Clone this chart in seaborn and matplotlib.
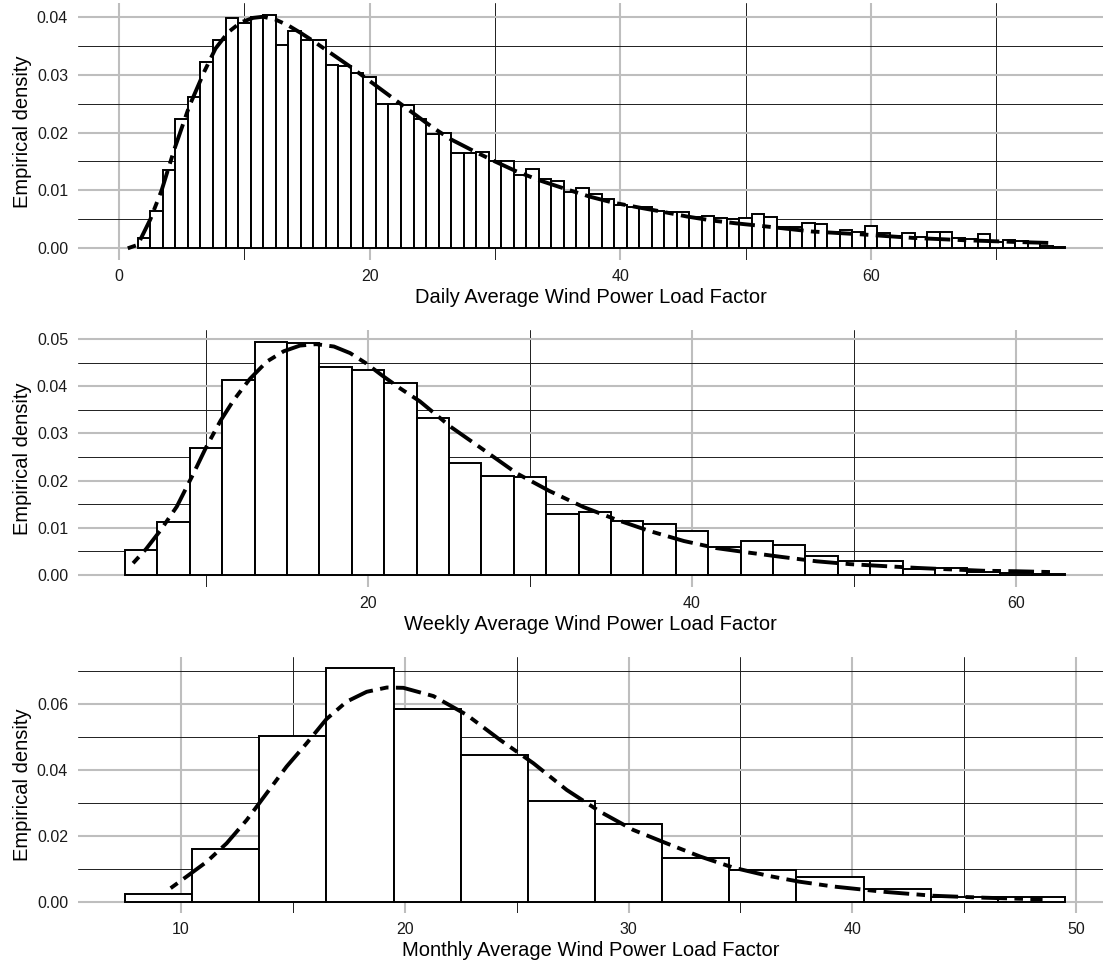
import numpy as np
import pandas as pd
import matplotlib
matplotlib.use("Agg")
import matplotlib.pyplot as plt
import seaborn as sns
from matplotlib.ticker import MultipleLocator

# ---------------- data ----------------
daily_bin_start = 1.5
daily_bin_width = 1.0
daily_heights = [
    0.0017, 0.0065, 0.0136, 0.0223, 0.0262, 0.0321, 0.0360, 0.0397, 0.0389, 0.0400,
    0.0403, 0.0351, 0.0375, 0.0360, 0.0359, 0.0317, 0.0315, 0.0303, 0.0296, 0.0250,
    0.0249, 0.0248, 0.0223, 0.0198, 0.0200, 0.0165, 0.0165, 0.0166, 0.0151, 0.0150,
    0.0127, 0.0137, 0.0120, 0.0117, 0.0098, 0.0105, 0.0094, 0.0085, 0.0075, 0.0072,
    0.0071, 0.0065, 0.0062, 0.0062, 0.0054, 0.0056, 0.0053, 0.0050, 0.0052, 0.0059,
    0.0054, 0.0036, 0.0036, 0.0043, 0.0042, 0.0029, 0.0031, 0.0028, 0.0038, 0.0027,
    0.0021, 0.0026, 0.0020, 0.0028, 0.0029, 0.0017, 0.0016, 0.0024, 0.0011, 0.0014,
    0.0013, 0.0009, 0.0004, 0.0003,
]
daily_fit_x = [0.7, 1.5, 2.5, 3.4, 4.4, 5.6, 6.8, 7.7, 8.7, 9.7, 10.7, 11.5, 12.5, 13.5,
               14.5, 15.5, 16.5, 17.5, 18.5, 19.5, 20.5, 21.5, 22.5, 23.5, 24.5, 25.5,
               26.5, 28.3, 30.0, 31.7, 33.6, 35.7, 37.6, 39.4, 41.6, 43.4, 45.3, 47.3,
               49.3, 51.1, 55.3, 59.3, 63.3, 67.4, 71.5, 74.6]
daily_fit_y = [0.0, 0.0006, 0.0050, 0.0100, 0.0170, 0.0245, 0.0305, 0.0345, 0.0373, 0.0390,
               0.0398, 0.0400, 0.0395, 0.0385, 0.0372, 0.0358, 0.0343, 0.0328, 0.0313,
               0.0297, 0.0281, 0.0265, 0.0249, 0.0233, 0.0217, 0.0202, 0.0188, 0.0168,
               0.0150, 0.0133, 0.0117, 0.0102, 0.0089, 0.0079, 0.0070, 0.0063, 0.0055,
               0.0048, 0.0043, 0.0039, 0.0029, 0.0024, 0.0018, 0.0014, 0.0011, 0.0009]

weekly_bin_start = 5.0
weekly_bin_width = 2.0
weekly_heights = [
    0.0054, 0.0112, 0.0270, 0.0414, 0.0494, 0.0492, 0.0441, 0.0434, 0.0407, 0.0332,
    0.0238, 0.0210, 0.0208, 0.0129, 0.0133, 0.0115, 0.0107, 0.0093, 0.0059, 0.0073,
    0.0064, 0.0041, 0.0030, 0.0030, 0.0013, 0.0015, 0.0007, 0.0005, 0.0003,
]
weekly_fit_x = [5.5, 6.3, 7.2, 8.2, 9.2, 10.0, 10.9, 11.7, 12.7, 13.75, 14.8, 15.8, 16.8,
                17.9, 18.9, 19.9, 20.9, 22.0, 23.2, 25.1, 27.1, 29.2, 31.2, 33.3, 35.35,
                37.4, 39.5, 41.5, 43.6, 45.6, 47.7, 49.75, 51.8, 53.9, 55.9, 58.0, 60.0, 62.5]
weekly_fit_y = [0.0025, 0.0055, 0.0095, 0.0145, 0.0213, 0.0270, 0.0327, 0.0370, 0.0415,
                0.0452, 0.0474, 0.0486, 0.0489, 0.0484, 0.0470, 0.0448, 0.0422, 0.0395,
                0.0368, 0.0314, 0.0266, 0.0215, 0.0178, 0.0144, 0.0117, 0.0093, 0.0072,
                0.0057, 0.0047, 0.0038, 0.0029, 0.0023, 0.0019, 0.0015, 0.0012, 0.0009,
                0.0008, 0.0006]

monthly_bin_start = 7.5
monthly_bin_width = 3.0
monthly_heights = [
    0.0023, 0.0162, 0.0505, 0.0709, 0.0586, 0.0446, 0.0307, 0.0236, 0.0133, 0.0096,
    0.0075, 0.0039, 0.0016, 0.0016,
]
monthly_fit_x = [9.54, 10.25, 11.15, 12.04, 12.94, 13.83, 14.72, 15.62, 16.5, 17.4, 18.3,
                 19.2, 19.94, 21.28, 22.77, 24.26, 25.75, 27.24, 28.73, 30.2, 31.7, 33.2,
                 34.7, 36.2, 37.6, 39.15, 41.4, 43.6, 45.9, 48.5]
monthly_fit_y = [0.0042, 0.0077, 0.0122, 0.0178, 0.0249, 0.0330, 0.0411, 0.0482, 0.0555,
                 0.0608, 0.0638, 0.0651, 0.0650, 0.0625, 0.0568, 0.0492, 0.0421, 0.0340,
                 0.0274, 0.0219, 0.0178, 0.0138, 0.0104, 0.0080, 0.0062, 0.0047, 0.0031,
                 0.0019, 0.0013, 0.0008]

x_labels = ["Daily Average Wind Power Load Factor",
            "Weekly Average Wind Power Load Factor",
            "Monthly Average Wind Power Load Factor"]
y_label = "Empirical density"

# ---------------- style ----------------
sns.set_style("white")
plt.rcParams["font.family"] = ["Liberation Sans", "DejaVu Sans"]

W, H = 1103, 969
fig = plt.figure(figsize=(W / 100, H / 100), dpi=100)

panels = [
    dict(top=3, bottom=260, heights=daily_heights, start=daily_bin_start, width=daily_bin_width,
         fx=daily_fit_x, fy=daily_fit_y, xlim=(-3.27, 78.51), ylim=(-0.00202, 0.04237),
         xmaj=20, xmin=10, ymaj=0.01, ymin=0.005),
    dict(top=330, bottom=587, heights=weekly_heights, start=weekly_bin_start, width=weekly_bin_width,
         fx=weekly_fit_x, fy=weekly_fit_y, xlim=(2.10, 65.37), ylim=(-0.00254, 0.0519),
         xmaj=20, xmin=10, ymaj=0.01, ymin=0.005),
    dict(top=657, bottom=913, heights=monthly_heights, start=monthly_bin_start, width=monthly_bin_width,
         fx=monthly_fit_x, fy=monthly_fit_y, xlim=(5.40, 51.2), ylim=(-0.00334, 0.07436),
         xmaj=10, xmin=5, ymaj=0.02, ymin=0.01),
]


def yfmt(v, pos):
    if abs(v) < 1e-12:
        v = 0.0
    return "{:.2f}".format(v)


left_px = 78
for i, p in enumerate(panels):
    ax = fig.add_axes([left_px / W, 1 - p["bottom"] / H, (W - left_px) / W,
                       (p["bottom"] - p["top"]) / H])
    n = len(p["heights"])
    edges = [p["start"] + p["width"] * k for k in range(n + 1)]
    centers = [(edges[k] + edges[k + 1]) / 2 for k in range(n)]
    df = pd.DataFrame({"x": centers, "h": p["heights"]})
    sns.histplot(data=df, x="x", weights="h", bins=edges, stat="count", ax=ax,
                 color="white", edgecolor="black", linewidth=1.4, alpha=1, zorder=2)
    fit = pd.DataFrame({"x": p["fx"], "y": p["fy"]})
    sns.lineplot(data=fit, x="x", y="y", ax=ax, estimator=None, sort=False,
                 color="black", linewidth=2.8, linestyle=(0, (2.2, 1.9, 6.6, 1.9)), zorder=3)

    ax.set_xlim(*p["xlim"])
    ax.set_ylim(*p["ylim"])
    ax.xaxis.set_major_locator(MultipleLocator(p["xmaj"]))
    ax.xaxis.set_minor_locator(MultipleLocator(p["xmin"]))
    ax.yaxis.set_major_locator(MultipleLocator(p["ymaj"]))
    ax.yaxis.set_minor_locator(MultipleLocator(p["ymin"]))
    ax.yaxis.set_major_formatter(plt.FuncFormatter(yfmt))
    ax.set_axisbelow(True)
    ax.grid(which="major", color="#bebebe", linewidth=1.5)
    ax.grid(which="minor", color="#1f1f1f", linewidth=0.7)
    for s in ax.spines.values():
        s.set_visible(False)
    ax.tick_params(which="major", length=3.6, width=1.0, color="#333333",
                   labelsize=11.5, labelcolor="#1a1a1a")
    ax.tick_params(axis="x", which="major", pad=3)
    ax.tick_params(axis="y", which="major", pad=3.6)
    ax.tick_params(which="minor", length=0)
    ax.set_facecolor("white")

    ax.set_xlabel(x_labels[i], fontsize=14.5, color="black")
    ax.set_ylabel(y_label, fontsize=14.5, color="black")
    hpx = p["bottom"] - p["top"]
    ax.xaxis.set_label_coords(0.5, -28 / hpx)
    ax.yaxis.set_label_coords((32 - left_px) / (W - left_px), 0.5)

fig.savefig("out.png", dpi=100, facecolor="white")
